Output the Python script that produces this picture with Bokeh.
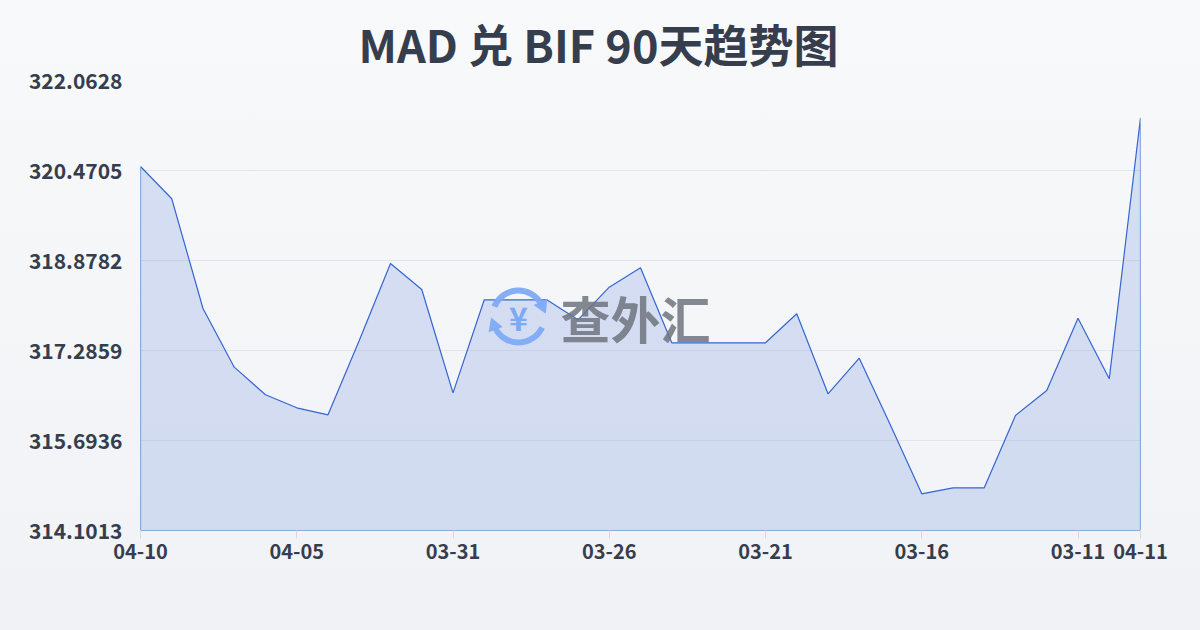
import math
from bokeh.plotting import figure
from bokeh.models import FixedTicker, Range1d, Label
from bokeh.core.properties import value
from bokeh.embed import file_html
from bokeh.resources import INLINE

title_text = "MAD 兑 BIF 90天趋势图"

dates = ["04-10", "04-09", "04-08", "04-07", "04-06", "04-05", "04-04", "04-03",
         "04-02", "04-01", "03-31", "03-30", "03-29", "03-28", "03-27", "03-26",
         "03-25", "03-24", "03-23", "03-22", "03-21", "03-20", "03-19", "03-18",
         "03-17", "03-16", "03-15", "03-14", "03-13", "03-12", "03-11", "03-10",
         "04-11"]

rates = [320.541, 319.970, 318.029, 316.991, 316.502, 316.272, 316.148, 317.463,
         318.825, 318.365, 316.537, 318.183, 318.183, 318.183, 317.829, 318.406,
         318.749, 317.422, 317.422, 317.422, 317.422, 317.935, 316.520, 317.150,
         315.964, 314.750, 314.856, 314.856, 316.136, 316.578, 317.857, 316.785,
         321.403]

y_ticks = [314.1013, 315.6936, 317.2859, 318.8782, 320.4705, 322.0628]
y_tick_labels = ["314.1013", "315.6936", "317.2859", "318.8782", "320.4705", "322.0628"]
x_tick_idx = [0, 5, 10, 15, 20, 25, 30, 32]

FONT = "Noto Sans CJK SC"
TXT = "#363e4e"
LINE = "#3466d2"
ICON = "#7eaaf5"

W, H = 1200, 630
FL, FR, FT, FB = 140, 1140, 80, 530

idx = list(range(len(rates)))
ymin, ymax = y_ticks[0], y_ticks[-1]
xmax = len(rates) - 1

p = figure(width=W, height=H, output_backend="svg", toolbar_location=None,
           x_range=Range1d(0, xmax), y_range=Range1d(ymin, ymax),
           min_border_left=FL, min_border_right=W - FR, min_border_top=FT, min_border_bottom=H - FB)
p.background_fill_alpha = 0
p.border_fill_alpha = 0
p.outline_line_color = None

p.title.text = title_text
p.title.align = "left"
p.title.offset = 218
p.title.text_font = FONT
p.title.text_font_size = "45px"
p.title.text_font_style = "bold"
p.title.text_color = TXT
p.title.standoff = 10

# area
xs = idx + [idx[-1], idx[0]]
ys = rates + [ymin, ymin]
p.patch(xs, ys, fill_color=LINE, fill_alpha=0.17, line_color=LINE, line_width=1.2)

# axes
p.xgrid.grid_line_color = None
p.ygrid.grid_line_color = "#e2e5ea"
p.ygrid.grid_line_width = 1
p.yaxis.ticker = FixedTicker(ticks=y_ticks)
p.yaxis.major_label_overrides = {t: s for t, s in zip(y_ticks, y_tick_labels)}
p.yaxis.axis_line_color = None
p.yaxis.major_tick_line_color = None
p.yaxis.minor_tick_line_color = None
p.yaxis.major_label_standoff = 12
p.yaxis.major_label_text_font = FONT
p.yaxis.major_label_text_font_size = "21px"
p.yaxis.major_label_text_font_style = "bold"
p.yaxis.major_label_text_color = TXT

p.xaxis.ticker = FixedTicker(ticks=x_tick_idx)
p.xaxis.major_label_overrides = {i: dates[i] for i in x_tick_idx}
p.xaxis.axis_line_color = None
p.xaxis.major_tick_line_color = "#d5d8dd"
p.xaxis.major_tick_out = 8
p.xaxis.major_tick_in = 0
p.xaxis.minor_tick_line_color = None
p.xaxis.major_label_standoff = 5
p.xaxis.major_label_text_font = FONT
p.xaxis.major_label_text_font_size = "20px"
p.xaxis.major_label_text_font_style = "bold"
p.xaxis.major_label_text_color = TXT

# watermark (decoration positioned relative to the frame)
px_x = xmax / (FR - FL)
px_y = (ymax - ymin) / (FB - FT)
icx, icy = 518, 316
cx = (icx - FL) * px_x
cy = ymin + (FB - icy) * px_y
R = 26
p.arc(x=[cx], y=[cy], radius=R, radius_units="screen", start_angle=0.5, end_angle=2.75,
      line_color=ICON, line_width=6, line_alpha=0.95)
p.arc(x=[cx], y=[cy], radius=R, radius_units="screen", start_angle=3.6, end_angle=5.85,
      line_color=ICON, line_width=6, line_alpha=0.95)
a1, a2 = 0.42, 3.5
p.scatter(x=[cx + R * math.cos(a1) * px_x, cx + R * math.cos(a2) * px_x],
          y=[cy + R * math.sin(a1) * px_y, cy + R * math.sin(a2) * px_y],
          marker="triangle", size=15, angle=[a1 + math.pi, a2 + math.pi],
          fill_color=ICON, line_color=None, fill_alpha=0.95)
p.text(x=[cx], y=[cy], text=["¥"], text_font=value(FONT), text_font_size="32px",
       text_font_style="bold", text_color=ICON, text_align="center", text_baseline="middle")
p.add_layout(Label(x=(560 - FL) * px_x, y=ymin + (FB - 316) * px_y, text="查外汇",
                   text_font=FONT, text_font_size="50px", text_font_style="bold",
                   text_color="#6f747e", text_alpha=0.85, text_baseline="middle"))

html = file_html(p, INLINE)
style = "<style>html{background:linear-gradient(180deg,#f8f9fb 0%,#f0f2f5 100%);min-height:100%;}</style>"
html = html.replace("</head>", style + "</head>", 1)
open("out.html", "w").write(html)
